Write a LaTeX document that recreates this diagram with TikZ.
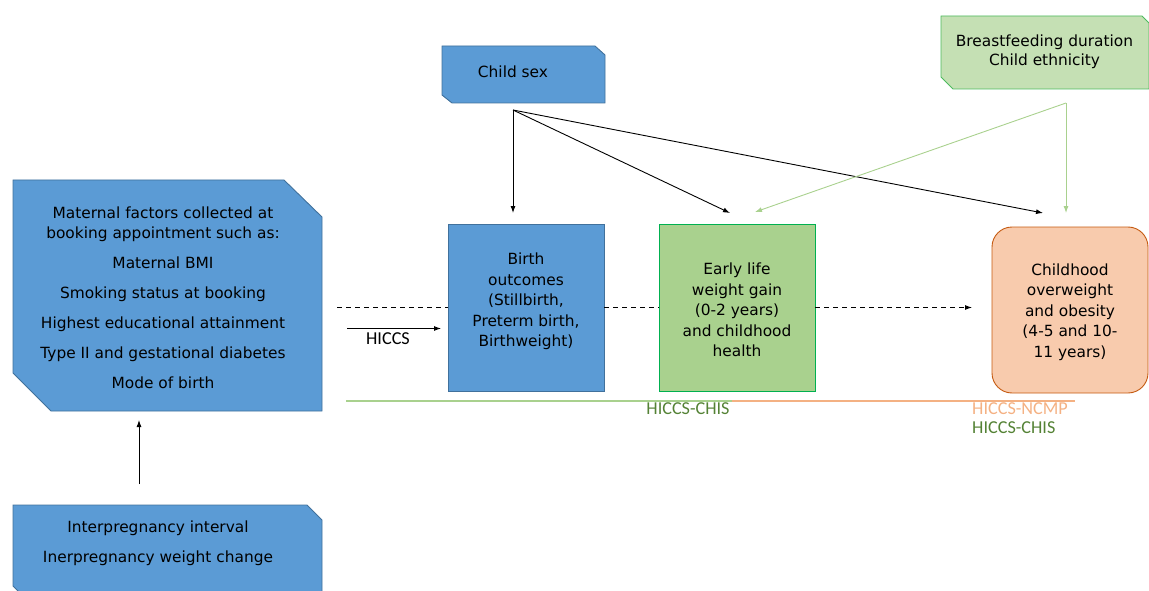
\documentclass[tikz,border=0pt]{standalone}
\usepackage{fontspec}
\setmainfont{DejaVu Sans}
\newfontfamily\labelfont{Carlito}
\usetikzlibrary{arrows.meta,calc}

\definecolor{boxblue}{HTML}{5B9BD5}
\definecolor{blueline}{HTML}{41719C}
\definecolor{earlygreen}{HTML}{A9D18E}
\definecolor{greenline}{HTML}{00B050}
\definecolor{palegreen}{HTML}{C5E0B4}
\definecolor{paleedge}{HTML}{4CBB5E}
\definecolor{peach}{HTML}{F8CBAD}
\definecolor{peachline}{HTML}{C55A11}
\definecolor{orangeline}{HTML}{F4B183}
\definecolor{darkgreen}{HTML}{548235}

\begin{document}
\begin{tikzpicture}[x=1pt,y=-1pt,
  holder/.style={rectangle, draw=none, inner sep=0pt, outer sep=0pt},
  txt/.style={font=\fontsize{15.4}{20.5}\selectfont, align=center, text=black, inner sep=0pt},
  lbl/.style={font=\labelfont\fontsize{18.2}{20}\selectfont, inner sep=0pt},
  bluefill/.style={fill=boxblue, draw=blueline, line width=0.9pt},
  arr/.style={line width=0.9pt, -{Latex[length=7pt,width=5pt]}},
  garr/.style={line width=0.9pt, earlygreen, -{Latex[length=7pt,width=5pt]}},
  dashln/.style={line width=0.9pt, dash pattern=on 5pt off 4pt},
]
\clip (0,0) rectangle (1149,591);

% ---------- box outlines ----------
\node[holder, minimum width=309, minimum height=231] (mat) at (167.5,295.5) {};
\filldraw[bluefill] (mat.north west) -- ($(mat.north east)+(-38,0)$) -- ($(mat.north east)+(0,37)$)
  -- (mat.south east) -- ($(mat.south west)+(38,0)$) -- ($(mat.south west)+(0,-38)$) -- cycle;

\node[holder, minimum width=309, minimum height=96] (ipi) at (167.5,553) {};
\filldraw[bluefill] (ipi.north west) -- ($(ipi.north east)+(-15,0)$) -- ($(ipi.north east)+(0,15)$)
  -- (ipi.south east) -- ($(ipi.south west)+(15,0)$) -- ($(ipi.south west)+(0,-15)$) -- cycle;

\node[holder, minimum width=163, minimum height=57] (sex) at (523.5,74.5) {};
\filldraw[bluefill] (sex.north west) -- ($(sex.north east)+(-10,0)$) -- ($(sex.north east)+(0,9)$)
  -- (sex.south east) -- ($(sex.south west)+(10,0)$) -- ($(sex.south west)+(0,-8)$) -- cycle;

\node[holder, minimum width=208, minimum height=73] (bf) at (1045,52.5) {};
\filldraw[fill=palegreen, draw=paleedge, line width=0.9pt] (bf.north west) -- ($(bf.north east)+(-7,0)$)
  -- ($(bf.north east)+(0,7)$) -- (bf.south east) -- ($(bf.south west)+(12,0)$)
  -- ($(bf.south west)+(0,-12)$) -- cycle;

\node[holder, bluefill, minimum width=156, minimum height=167] (birth) at (526,307.5) {};
\node[holder, fill=earlygreen, draw=greenline, line width=0.9pt, minimum width=156, minimum height=167] (early) at (737,307.5) {};
\node[holder, fill=peach, draw=peachline, line width=0.9pt, rounded corners=20pt, minimum width=156, minimum height=166] (child) at (1070,310) {};

% ---------- texts ----------
\node[txt] (matT) at (163,298) {Maternal factors collected at\\booking appointment such as:\\[9.5pt]Maternal BMI\\[9.5pt]Smoking status at booking\\[9.5pt]Highest educational attainment\\[9.5pt]Type II and gestational diabetes\\[9.5pt]Mode of birth};
\node[txt] (ipiT) at (158,543) {Interpregnancy interval\\[9.5pt]Inerpregnancy weight change};
\node[txt] (sexT) at (513,72) {Child sex};
\node[txt, font=\fontsize{15.4}{19}\selectfont] (bfT) at (1044.5,51.5) {Breastfeeding duration\\Child ethnicity};
\node[txt] (birthT) at (526,301.5) {Birth\\outcomes\\(Stillbirth,\\Preterm birth,\\Birthweight)};
\node[txt] (earlyT) at (737,310) {Early life\\weight gain\\(0-2 years)\\and childhood\\health};
\node[txt] (childT) at (1070,312) {Childhood\\overweight\\and obesity\\(4-5 and 10-\\11 years)};

% ---------- connectors ----------
\draw[arr] ($(ipi.north west)+(126,-21)$) -- ($(mat.south west)+(126,9)$);

\coordinate (sexFoot) at ($(sex.south west)+(71,7)$);
\draw[arr] (sexFoot) -- ($(birth.north)+(-13,-11)$);
\draw[arr] (sexFoot) -- ($(early.north)+(-7,-11)$);
\draw[arr] (sexFoot) -- ($(child.north)+(-27,-14)$);

\coordinate (bfFoot) at ($(bf.south west)+(125,14)$);
\draw[garr] (bfFoot) -- ($(child.north)+(-4,-14)$);
\draw[garr] (bfFoot) -- ($(early.north)+(18,-12)$);

\draw[dashln] ($(mat.east |- birth.west)+(15,0)$) -- (birth.west);
\draw[dashln] (birth.east) -- (early.west);
\draw[dashln, arr] (early.east) -- ($(early.east -| child.west)+(-20,0)$);

\draw[arr] ($(mat.east |- birth.west)+(25,21)$) -- ($(birth.west)+(-7,21)$);
\node[lbl] (hiccs) at (388,339) {HICCS};

% ---------- data linkage bars ----------
\coordinate (barStart) at ($(mat.east |- birth.south)+(24,10)$);
\coordinate (barSplit) at ($(early.south west)+(73,10)$);
\coordinate (barEnd) at ($(child.south west)+(83,8)$);
\draw[earlygreen, line width=2.5pt] (barStart) -- (barSplit);
\draw[orangeline, line width=2.5pt] (barSplit) -- (barEnd);

\node[lbl, text=darkgreen] (chisA) at (688,409) {HICCS-CHIS};
\node[lbl, text=orangeline, anchor=west] (ncmp) at (972,409) {HICCS-NCMP};
\node[lbl, text=darkgreen, anchor=west] (chisB) at (972,427.5) {HICCS-CHIS};
\end{tikzpicture}
\end{document}
